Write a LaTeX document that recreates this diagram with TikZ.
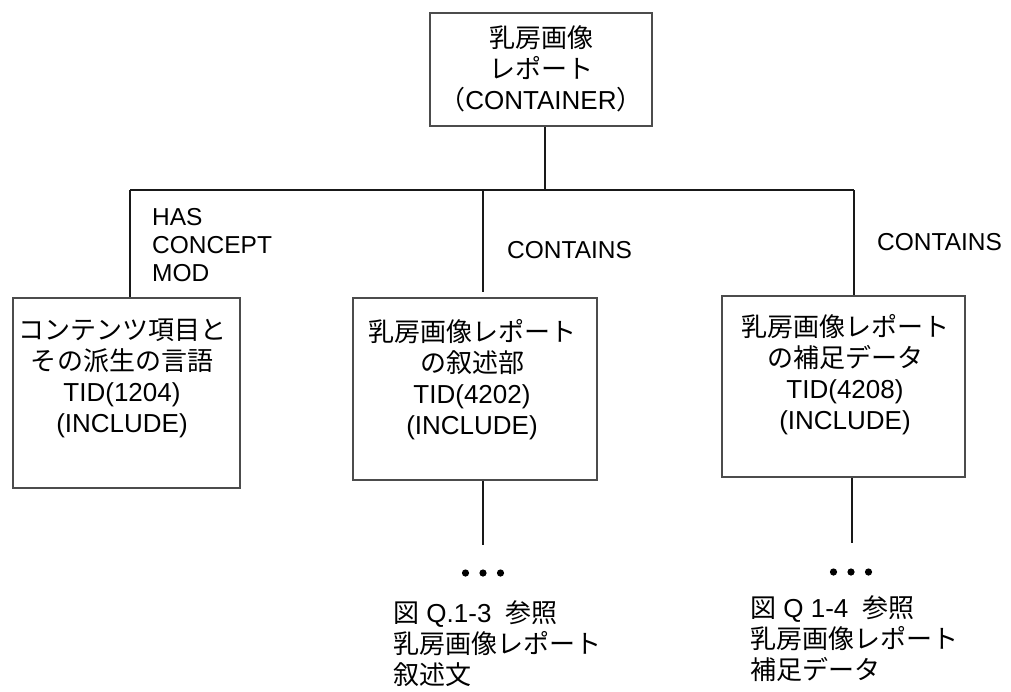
\documentclass[tikz,border=0pt]{standalone}
\usepackage{fontspec}
\setmainfont{Liberation Sans}
\newfontfamily\jpfont{Noto Sans CJK JP}
\usetikzlibrary{positioning}

\newcommand{\ja}[1]{{\jpfont #1}}

\begin{document}
\begin{tikzpicture}[
    x=1pt, y=-1pt,
    report box/.style={draw=black!70, line width=2.2pt, inner sep=0pt},
    box text/.style={anchor=north, align=center, inner sep=0pt,
        font=\fontsize{26}{31}\selectfont},
    note text/.style={anchor=north west, align=left, inner sep=0pt,
        font=\fontsize{26}{31}\selectfont},
    rel label/.style={anchor=west, align=left, inner sep=0pt,
        font=\fontsize{24.5}{28}\selectfont},
    tree line/.style={line width=1.8pt, black!90}
]
    \useasboundingbox (0,0) rectangle (1011,691);

    % Boxes
    \node[report box, minimum width=222pt, minimum height=113pt] (root) at (541, 69.5) {};
    \node[report box, minimum width=227pt, minimum height=190pt] (contentItem) at (126.5, 393) {};
    \node[report box, minimum width=244pt, minimum height=182pt] (narrative) at (475, 389) {};
    \node[report box, minimum width=243pt, minimum height=181pt] (suppl) at (843.5, 386.5) {};

    \node[box text] (rootText) at (541, 25) {\ja{乳房画像}\\ \ja{レポート}\\ \ja{（}CONTAINER\ja{）}};
    \node[box text] (contentText) at (122, 319) {\ja{コンテンツ項目と}\\ \ja{その派生の言語}\\ TID(1204)\\ (INCLUDE)};
    \node[box text] (narrText) at (472, 319) {\ja{乳房画像レポート}\\ \ja{の叙述部}\\ TID(4202)\\ (INCLUDE)};
    \node[box text] (supplText) at (845, 314) {\ja{乳房画像レポート}\\ \ja{の補足データ}\\ TID(4208)\\ (INCLUDE)};

    % Tree lines
    \coordinate (rootJoin) at (545, 190);
    \coordinate (busL) at (130, 190);
    \coordinate (busM) at (483, 190);
    \coordinate (busR) at (854, 190);
    \coordinate (midEnd) at (483, 292);

    \draw[tree line] (rootJoin |- root.south) -- (rootJoin);
    \draw[tree line] (busL) -- (busR);
    \draw[tree line] (busL) -- (busL |- contentItem.north);
    \draw[tree line] (busM) -- (midEnd);
    \draw[tree line] (busR) -- (busR |- suppl.north);

    \node[rel label] (hasMod) at (152, 245) {HAS\\ CONCEPT\\ MOD};
    \node[rel label] (containsL) at (507, 250) {CONTAINS};
    \node[rel label] (containsR) at (877, 242) {CONTAINS};

    % Continuations
    \coordinate (narrEnd) at (483, 545);
    \coordinate (supplEnd) at (852, 543);
    \coordinate (narrDots) at (483, 573);
    \coordinate (supplDots) at (851, 572);

    \draw[tree line] (narrEnd |- narrative.south) -- (narrEnd);
    \draw[tree line] (supplEnd |- suppl.south) -- (supplEnd);

    \foreach \dx in {-17.5, 0, 17.5} {
        \fill ([xshift=\dx pt]narrDots) circle (3.6pt);
        \fill ([xshift=\dx pt]supplDots) circle (3.6pt);
    }

    \node[note text] (narrNote) at (393, 600) {\ja{図} Q.1-3\ \ \ja{参照}\\ \ja{乳房画像レポート}\\ \ja{叙述文}};
    \node[note text] (supplNote) at (750, 595) {\ja{図} Q 1-4\ \ \ja{参照}\\ \ja{乳房画像レポート}\\ \ja{補足データ}};

\end{tikzpicture}
\end{document}
